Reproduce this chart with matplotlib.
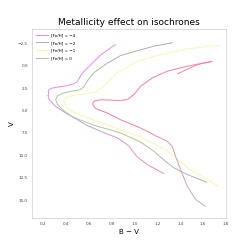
import numpy as np
import matplotlib
matplotlib.use("Agg")
import matplotlib.pyplot as plt
from matplotlib.collections import LineCollection
from matplotlib.colors import LinearSegmentedColormap
from matplotlib.lines import Line2D

# Isochrones, from the lower main sequence upwards
bv_m4 = [1.256, 1.110, 1.025, 0.990, 0.947, 0.848, 0.702, 0.570, 0.498, 0.395, 0.308,
         0.251, 0.238, 0.238, 0.264, 0.316, 0.395, 0.456, 0.500, 0.535, 0.597, 0.702, 0.833]
v_m4 = [12.05, 11.03, 10.20, 9.70, 8.92, 8.06, 7.33, 6.58, 6.03, 5.28, 4.55,
        3.80, 3.25, 2.86, 2.53, 2.41, 2.25, 2.08, 1.75, 0.91, 0.10, -1.20, -2.39]

bv_m2 = [1.635, 1.460, 1.343, 1.256, 1.168, 1.052, 0.877, 0.643, 0.526, 0.439, 0.369,
         0.325, 0.308, 0.321, 0.369, 0.439, 0.518, 0.555, 0.579, 0.640, 0.760, 0.877,
         1.025, 1.165, 1.329]
v_m2 = [13.03, 12.14, 11.40, 10.53, 9.55, 8.53, 7.51, 6.64, 6.08, 5.58, 4.91,
        4.36, 3.80, 3.36, 3.08, 2.86, 2.69, 2.36, 1.80, 0.80, -0.28, -1.14,
        -1.68, -2.17, -2.57]

bv_m1 = [1.737, 1.635, 1.460, 1.358, 1.256, 1.052, 0.877, 0.760, 0.553, 0.421, 0.382,
         0.380, 0.413, 0.498, 0.570, 0.658, 0.719, 0.772, 0.833, 0.903, 1.023, 1.168,
         1.460, 1.743]
v_m1 = [13.48, 12.70, 11.37, 10.25, 9.25, 7.97, 7.20, 6.58, 5.66, 4.92, 4.25,
        3.80, 3.47, 3.25, 3.14, 2.91, 2.41, 1.69, 0.91, 0.36, -0.50, -1.05,
        -1.90, -2.26]

bv_0 = [1.621, 1.533, 1.460, 1.402, 1.358, 1.329, 1.285, 1.183, 1.052, 0.877, 0.760,
        0.658, 0.629, 0.649, 0.702, 0.789, 0.877, 0.935, 0.993, 1.052, 1.154, 1.285,
        1.460, 1.679, 1.548, 1.373]
v_0 = [15.73, 14.92, 13.44, 11.59, 10.11, 9.00, 8.44, 7.81, 6.95, 6.03, 5.28,
       4.80, 4.25, 3.92, 3.80, 3.84, 3.88, 3.77, 3.22, 2.28, 1.36, 0.61,
       0.06, -0.50, -0.12, 0.91]

labels = ["[Fe/H] = \u22124", "[Fe/H] = \u22122", "[Fe/H] = \u22121", "[Fe/H] = 0"]

# colour runs along each track (start -> end)
track_colors = [
    ["#f28ab4", "#c59ae8", "#e488e4", "#e68ce8"],
    ["#b0b0b0", "#a6d096", "#a8c89a", "#a8aca8"],
    ["#f6f2b0", "#f7f7b0", "#f7f7b4", "#f6f6b8"],
    ["#c0b0b8", "#f2809c", "#f27c98", "#f282a4"],
]

fig = plt.figure(figsize=(2.5, 2.5), dpi=100)
ax = fig.add_axes([0.128, 0.128, 0.776, 0.756])

tracks = [(bv_m4, v_m4), (bv_m2, v_m2), (bv_m1, v_m1), (bv_0, v_0)]
handles = []
for (bv, v), cols, lab in zip(tracks, track_colors, labels):
    pts = np.column_stack([bv, v]).reshape(-1, 1, 2)
    segs = np.concatenate([pts[:-1], pts[1:]], axis=1)
    cmap = LinearSegmentedColormap.from_list("trk", cols)
    lc = LineCollection(segs, cmap=cmap, linewidth=0.7)
    lc.set_array(np.linspace(0, 1, len(segs)))
    ax.add_collection(lc)
    handles.append(Line2D([0], [0], color=cols[0], lw=0.7, label=lab))

ax.set_xlim(0.1, 1.8)
ax.set_ylim(17.0, -4.1)
ax.set_xticks([0.2, 0.4, 0.6, 0.8, 1.0, 1.2, 1.4, 1.6, 1.8])
ax.set_yticks([-2.5, 0.0, 2.5, 5.0, 7.5, 10.0, 12.5, 15.0])
ax.tick_params(labelsize=3, length=0, pad=3, colors="#444444")
for s in ax.spines.values():
    s.set_color("#d4d4d4")
    s.set_linewidth(0.6)

ax.set_title("Metallicity effect on isochrones", fontsize=6.5, pad=3)
ax.set_xlabel("B \u2212 V", fontsize=5, labelpad=2)
ax.set_ylabel("V", fontsize=5, labelpad=2)

ax.legend(handles=handles, loc="upper left", fontsize=3, frameon=False,
          handlelength=2.8, labelspacing=0.9, borderaxespad=0.6)

fig.savefig("out.png", dpi=100)
